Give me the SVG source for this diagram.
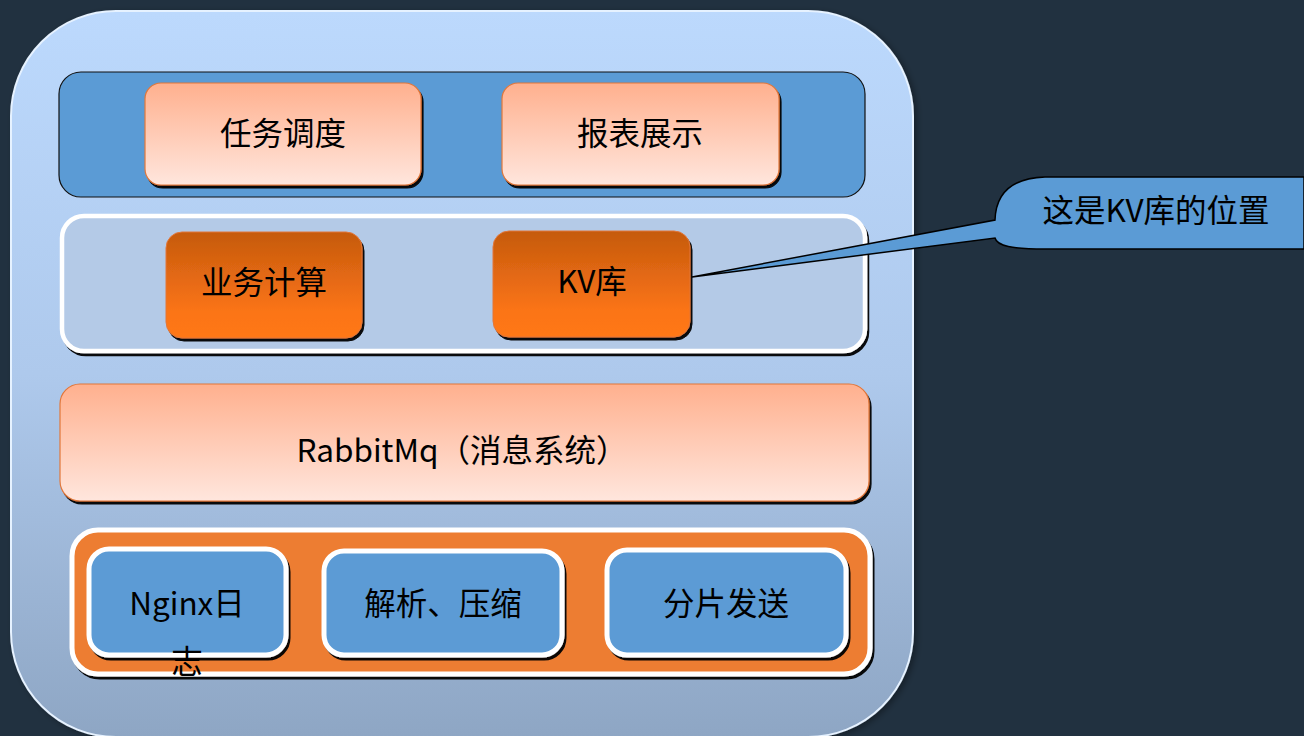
<svg xmlns="http://www.w3.org/2000/svg" width="1304" height="736" viewBox="0 0 1304 736">
<defs>
<linearGradient id="gBig" x1="0" y1="0" x2="0" y2="1">
<stop offset="0" stop-color="#bcd9fd"/>
<stop offset="0.5" stop-color="#aec9ec"/>
<stop offset="1" stop-color="#8ea6c4"/>
</linearGradient>
<linearGradient id="gPeach" x1="0" y1="0" x2="0" y2="1">
<stop offset="0" stop-color="#ffb08e"/>
<stop offset="1" stop-color="#ffe6dd"/>
</linearGradient>
<linearGradient id="gOrange" x1="0" y1="0" x2="0" y2="1">
<stop offset="0" stop-color="#c55a0e"/>
<stop offset="0.75" stop-color="#fb7416"/>
<stop offset="1" stop-color="#ff7818"/>
</linearGradient>
<filter id="sh" x="-10%" y="-10%" width="120%" height="130%">
<feDropShadow dx="2" dy="3" stdDeviation="0.6" flood-color="#000" flood-opacity="0.95"/>
</filter>
<filter id="shBig" x="-5%" y="-5%" width="110%" height="110%">
<feDropShadow dx="3" dy="2" stdDeviation="3" flood-color="#000" flood-opacity="0.35"/>
</filter>
</defs>
<style>
text{font-family:"Microsoft YaHei","Noto Sans CJK SC","Noto Sans",sans-serif;font-size:31.5px;fill:#000;text-anchor:middle;dominant-baseline:central}
.peach{fill:url(#gPeach);stroke:#e2773a;stroke-width:1.2}
.orange{fill:url(#gOrange);stroke:#e2773a;stroke-width:1}
.blue{fill:#5b9bd5;stroke:#fff;stroke-width:5}
</style>
<rect width="1304" height="736" fill="#213140"/>
<g id="frame">
<rect x="11" y="11" width="902" height="726" rx="105" ry="105" fill="url(#gBig)" stroke="#e6f2ff" stroke-width="2" filter="url(#shBig)"/>
</g>
<g id="layer-top">
<rect x="59" y="72" width="806" height="125" rx="22" fill="#5b9bd5" stroke="#111" stroke-width="1.2"/>
</g>
<g id="task">
<rect class="peach" x="145" y="83" width="276" height="102" rx="16" filter="url(#sh)"/>
<text x="283" y="131">任务调度</text>
</g>
<g id="report">
<rect class="peach" x="502" y="83" width="277" height="102" rx="16" filter="url(#sh)"/>
<text x="640" y="131">报表展示</text>
</g>
<g id="layer-mid">
<rect x="62" y="216" width="803" height="135" rx="22" fill="#b4cae7" stroke="#fff" stroke-width="4.5" filter="url(#sh)"/>
</g>
<g id="biz">
<rect class="orange" x="166" y="232" width="196" height="106" rx="16" filter="url(#sh)"/>
<text x="264" y="280">业务计算</text>
</g>
<g id="kv">
<rect class="orange" x="493" y="231" width="197" height="106" rx="16" filter="url(#sh)"/>
<text x="592" y="279">KV库</text>
</g>
<g id="rabbit">
<rect class="peach" x="60" y="384" width="809" height="117" rx="20" filter="url(#sh)"/>
<text x="462" y="448">RabbitMq（消息系统）</text>
</g>
<g id="layer-bottom">
<rect x="72" y="530" width="798" height="144" rx="26" fill="#ed7d31" stroke="#fff" stroke-width="5" filter="url(#sh)"/>
</g>
<g id="nginx">
<rect class="blue" x="89" y="549" width="197" height="106" rx="20" filter="url(#sh)"/>
<text x="187" y="601">Nginx日</text>
<text x="187" y="659">志</text>
</g>
<g id="parse">
<rect class="blue" x="324" y="551" width="238" height="104" rx="20" filter="url(#sh)"/>
<text x="443" y="601">解析、压缩</text>
</g>
<g id="shard">
<rect class="blue" x="607" y="550" width="239" height="105" rx="20" filter="url(#sh)"/>
<text x="726" y="601">分片发送</text>
</g>
<g id="connectors">
<path d="M995 220 C996 190 1015 178 1045 177 L1304 177 L1304 249 L1045 249 C1012 249 997 246 995 238 L692 277 Z" fill="#5b9bd5" stroke="#000" stroke-width="1.5" stroke-linejoin="miter"/>
</g>
<g id="callout">
<text x="1156" y="208">这是KV库的位置</text>
</g>
</svg>
